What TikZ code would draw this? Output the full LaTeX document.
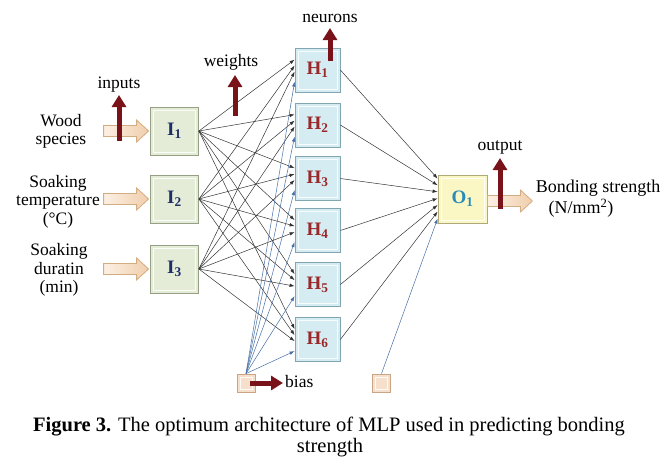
\documentclass[tikz,border=0pt]{standalone}
\usepackage{fontspec}
\setmainfont{Liberation Serif}
\usetikzlibrary{arrows.meta,calc}
\definecolor{ifill}{RGB}{228,235,214}
\definecolor{iline}{RGB}{150,160,135}
\definecolor{hfill}{RGB}{214,236,243}
\definecolor{hline}{RGB}{130,165,178}
\definecolor{ofill}{RGB}{250,247,196}
\definecolor{oline}{RGB}{175,168,120}
\definecolor{bfill}{RGB}{246,224,204}
\definecolor{bline}{RGB}{200,165,135}
\definecolor{itext}{RGB}{30,45,105}
\definecolor{htext}{RGB}{155,40,40}
\definecolor{otext}{RGB}{40,140,185}
\definecolor{darkred}{RGB}{122,18,25}
\definecolor{biasblue}{RGB}{70,110,165}
\definecolor{fatline}{RGB}{212,172,130}
\definecolor{fatL}{RGB}{252,240,228}
\definecolor{fatR}{RGB}{240,206,172}
\newcommand\fatarrowto[2]{% #1 = tip coordinate, #2 = total length
  \draw[fatarr] (#1) -- ++(-12,-11) -- ++(0,5.5) -- ++({-(#2-12)},0) -- ++(0,11) -- ++({#2-12},0) -- ++(0,5.5) -- cycle;}
\begin{document}
\begin{tikzpicture}[x=1pt,y=-1pt,
  unit/.style={rectangle, line width=0.8pt, inner sep=0pt,
    font=\fontsize{19}{20}\selectfont\bfseries,
    path picture={\draw[white,line width=0.9pt,opacity=0.85]
      ([shift={(3pt,3pt)}]path picture bounding box.south west) rectangle
      ([shift={(-3pt,-3pt)}]path picture bounding box.north east);}},
  ibox/.style={unit, draw=iline, fill=ifill, text=itext, minimum width=48, minimum height=48},
  hbox/.style={unit, draw=hline, fill=hfill, text=htext, minimum width=45, minimum height=44},
  obox/.style={unit, draw=oline, fill=ofill, text=otext, minimum width=49, minimum height=48},
  bbox/.style={unit, draw=bline, fill=bfill, minimum width=18, minimum height=18},
  conn/.style={draw=black!80, line width=0.5pt, -{Latex[length=5pt,width=3.5pt]}},
  bconn/.style={draw=biasblue, line width=0.5pt, -{Latex[length=5pt,width=3.5pt]}},
  redarr/.style={draw=darkred, line width=5pt, -{Triangle[width=14pt,length=12pt]}},
  fatarr/.style={draw=fatline, line width=0.8pt, left color=fatL, right color=fatR},
  lab/.style={font=\fontsize{17.5}{18}\selectfont, inner sep=0pt},
  inlab/.style={font=\fontsize{17.5}{18.5}\selectfont, inner sep=0pt, align=center},
  caption/.style={font=\fontsize{20.5}{22}\selectfont, inner sep=0pt},
]
\useasboundingbox (0,0) rectangle (667,459);

% input units
\node[ibox] (I1) at (174.5,131) {I\textsubscript{1}};
\node[ibox] (I2) at (174.5,199) {I\textsubscript{2}};
\node[ibox] (I3) at (174.5,269) {I\textsubscript{3}};
% hidden units
\node[hbox] (H1) at (317.5,70) {H\textsubscript{1}};
\node[hbox] (H2) at (317.5,125) {H\textsubscript{2}};
\node[hbox] (H3) at (317.5,178.5) {H\textsubscript{3}};
\node[hbox] (H4) at (317.5,230.5) {H\textsubscript{4}};
\node[hbox] (H5) at (317.5,284.5) {H\textsubscript{5}};
\node[hbox] (H6) at (317.5,339.5) {H\textsubscript{6}};
% output unit
\node[obox] (O1) at (462.5,199) {O\textsubscript{1}};
% bias units
\node[bbox] (B1) at (246,383) {};
\node[bbox] (B2) at (381.5,383) {};

% connections input -> hidden
\foreach \i/\o in {1/12,2/18,3/24}
  \foreach \h in {1,...,6}
    \draw[conn] (I\i.east) -- ($(H\h.north west)+(0,\o)$);
% bias -> hidden
\foreach \h in {1,...,6}
  \draw[bconn] (B1.north) -- ($(H\h.north west)+(0,34)$);
% hidden -> output
\foreach \h [evaluate=\h as \oy using 4+6.6*(\h-1)] in {1,...,6}
  \draw[conn] (H\h.east) -- ($(O1.north west)+(0,\oy)$);
\draw[bconn] (B2.north) -- ($(O1.north west)+(0,44)$);

% fat arrows
\fatarrowto{$(I1.west)+(-1.5,0)$}{45}
\fatarrowto{$(I2.west)+(-1.5,0)$}{45}
\fatarrowto{$(I3.west)+(-1.5,0)$}{45}
\coordinate (outtip) at ($(O1.east)+(45,2)$);
\fatarrowto{outtip}{45}

% input labels
\node[inlab] (t1) at (61,131.5) {Wood\\species};
\node[inlab] (t2) at (58,201.5) {Soaking\\temperature\\(°C)};
\node[inlab] (t3) at (59,270) {Soaking\\duratin\\(min)};
\node[lab, font=\fontsize{18}{19}\selectfont] (t4) at (598,188) {Bonding strength};
\node[lab, font=\fontsize{18}{19}\selectfont] (t5) at (581,208) {(N/mm\textsuperscript{2})};

% marker labels and arrows
\node[lab] (linputs) at (119,85) {inputs};
\node[lab] (lweights) at (231,62) {weights};
\node[lab] (lneurons) at (330,18) {neurons};
\node[lab] (loutput) at (500,147) {output};
\node[lab, anchor=west] (lbias) at (285,382) {bias};
\coordinate (ra1) at (119,141); \coordinate (ra1t) at (119,95);
\coordinate (ra2) at (235,116); \coordinate (ra2t) at (235,75);
\coordinate (ra3) at (330,61);  \coordinate (ra3t) at (330,28);
\coordinate (ra4) at (500,209); \coordinate (ra4t) at (500,158);
\coordinate (ra5) at (250,383); \coordinate (ra5t) at (283,383);
\draw[redarr] (ra1) -- (ra1t);
\draw[redarr] (ra2) -- (ra2t);
\draw[redarr] (ra3) -- (ra3t);
\draw[redarr] (ra4) -- (ra4t);
\draw[redarr] (ra5) -- (ra5t);

% caption
\node[caption] (cap1) at (329,427)
  {\textbf{Figure 3.} The optimum architecture of MLP used in predicting bonding};
\node[caption] (cap2) at (330,448) {strength};
\end{tikzpicture}
\end{document}
